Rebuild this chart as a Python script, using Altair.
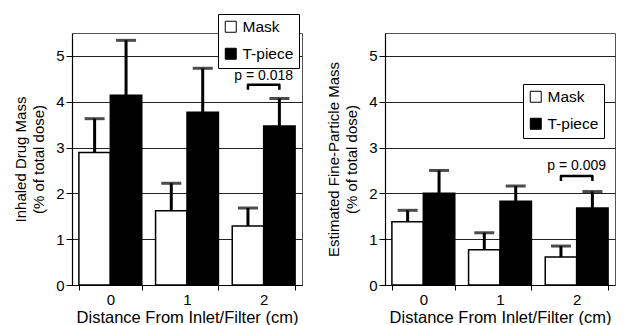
import altair as alt
import pandas as pd

distances = ["0", "1", "2"]
groups = ["Mask", "T-piece"]

inhaled_mask = [2.89, 1.62, 1.29]
inhaled_mask_err = [0.74, 0.60, 0.39]
inhaled_tpiece = [4.14, 3.77, 3.47]
inhaled_tpiece_err = [1.20, 0.96, 0.60]

fine_mask = [1.38, 0.77, 0.61]
fine_mask_err = [0.25, 0.37, 0.24]
fine_tpiece = [2.00, 1.83, 1.68]
fine_tpiece_err = [0.50, 0.33, 0.36]

p_labels = ["p = 0.018", "p = 0.009"]
bracket_tops = [4.37, 2.38]
bracket_drop = 0.11
p_text_levels = [4.56, 2.60]

FONT = "Liberation Sans"
ytick_values = [0, 1, 2, 3, 4, 5]
PW, PH = 230, 252


def panel(mask, mask_err, tp, tp_err, ytitle, lx, ly, p_label, btop, ptext):
    rows = []
    for d, v, e in zip(distances, mask, mask_err):
        rows.append({"dist": d, "group": "Mask", "value": v, "upper": v + e})
    for d, v, e in zip(distances, tp, tp_err):
        rows.append({"dist": d, "group": "T-piece", "value": v, "upper": v + e})
    df = pd.DataFrame(rows)

    xscale = alt.Scale(domain=distances, paddingInner=0.18, paddingOuter=0.09)
    yscale = alt.Scale(domain=[0, 5.5], nice=False)
    xo = alt.XOffset("group:N", scale=alt.Scale(domain=groups, paddingInner=0, paddingOuter=0))

    xaxis = alt.Axis(title="Distance From Inlet/Filter (cm)", labelAngle=0,
                     tickBand="extent", titleFontSize=16.5, titlePadding=2,
                     tickSize=5, labelPadding=2, grid=False)
    yaxis = alt.Axis(values=ytick_values, title=ytitle, grid=True,
                     titleFontSize=15, titleLineHeight=18, titlePadding=9,
                     tickSize=6, labelPadding=2)

    def X():
        return alt.X("dist:N", scale=xscale, sort=distances, axis=xaxis)

    def Y(field):
        return alt.Y(field, scale=yscale, axis=yaxis)

    bars = alt.Chart(df).mark_bar(stroke="black", strokeWidth=1.5).encode(
        x=X(),
        xOffset=xo,
        y=Y("value:Q"),
        fill=alt.Fill("group:N", scale=alt.Scale(domain=groups, range=["white", "black"]),
                      legend=alt.Legend(title=None, orient="none", legendX=lx, legendY=ly)),
    )
    rules = alt.Chart(df).mark_rule(color="black", strokeWidth=3).encode(
        x=X(), xOffset=xo,
        y=Y("value:Q"),
        y2="upper:Q",
    )
    caps = alt.Chart(df).mark_tick(color="black", thickness=3, size=20).encode(
        x=X(), xOffset=xo,
        y=Y("upper:Q"),
    )
    bdf = pd.DataFrame({
        "dist": ["2", "2", "2", "2"],
        "group": ["Mask", "Mask", "T-piece", "T-piece"],
        "yv": [btop - bracket_drop, btop, btop, btop - bracket_drop],
        "i": [0, 1, 2, 3],
    })
    bracket = alt.Chart(bdf).mark_line(color="black", strokeWidth=2.5, strokeJoin="round").encode(
        x=X(), xOffset=xo,
        y=Y("yv:Q"),
        order="i:O",
    )
    tdf = pd.DataFrame({"dist": ["2"], "yv": [ptext], "label": [p_label]})
    ptxt = alt.Chart(tdf).mark_text(fontSize=14, font=FONT, color="black").encode(
        x=X(),
        y=Y("yv:Q"),
        text="label:N",
    )
    return alt.layer(bars, rules, caps, bracket, ptxt).properties(width=PW, height=PH)


left = panel(inhaled_mask, inhaled_mask_err, inhaled_tpiece, inhaled_tpiece_err,
             ["Inhaled Drug Mass", "(% of total dose)"], 146, -19,
             p_labels[0], bracket_tops[0], p_text_levels[0])
right = panel(fine_mask, fine_mask_err, fine_tpiece, fine_tpiece_err,
              ["Estimated Fine-Particle Mass", "(% of total dose)"], 138, 51,
              p_labels[1], bracket_tops[1], p_text_levels[1])

chart = alt.hconcat(left, right, spacing=23).resolve_scale(fill="independent").properties(
    padding={"left": 5, "top": 5, "right": 0, "bottom": 0}
).configure_axis(
    labelFont=FONT, titleFont=FONT, labelFontSize=15, labelColor="black",
    titleColor="black", titleFontWeight="normal", domainColor="black",
    tickColor="black", gridColor="#222", gridWidth=1, domainWidth=1.2,
).configure_view(stroke="#555", strokeWidth=1).configure_legend(
    labelFont=FONT, labelFontSize=15.5, labelColor="black", symbolType="square",
    symbolSize=121, symbolStrokeColor="black", symbolStrokeWidth=1,
    strokeColor="black", fillColor="white", padding=5, rowPadding=10,
    labelOffset=4,
)

chart.save("out.html", embed_options={"renderer": "svg", "actions": False})
